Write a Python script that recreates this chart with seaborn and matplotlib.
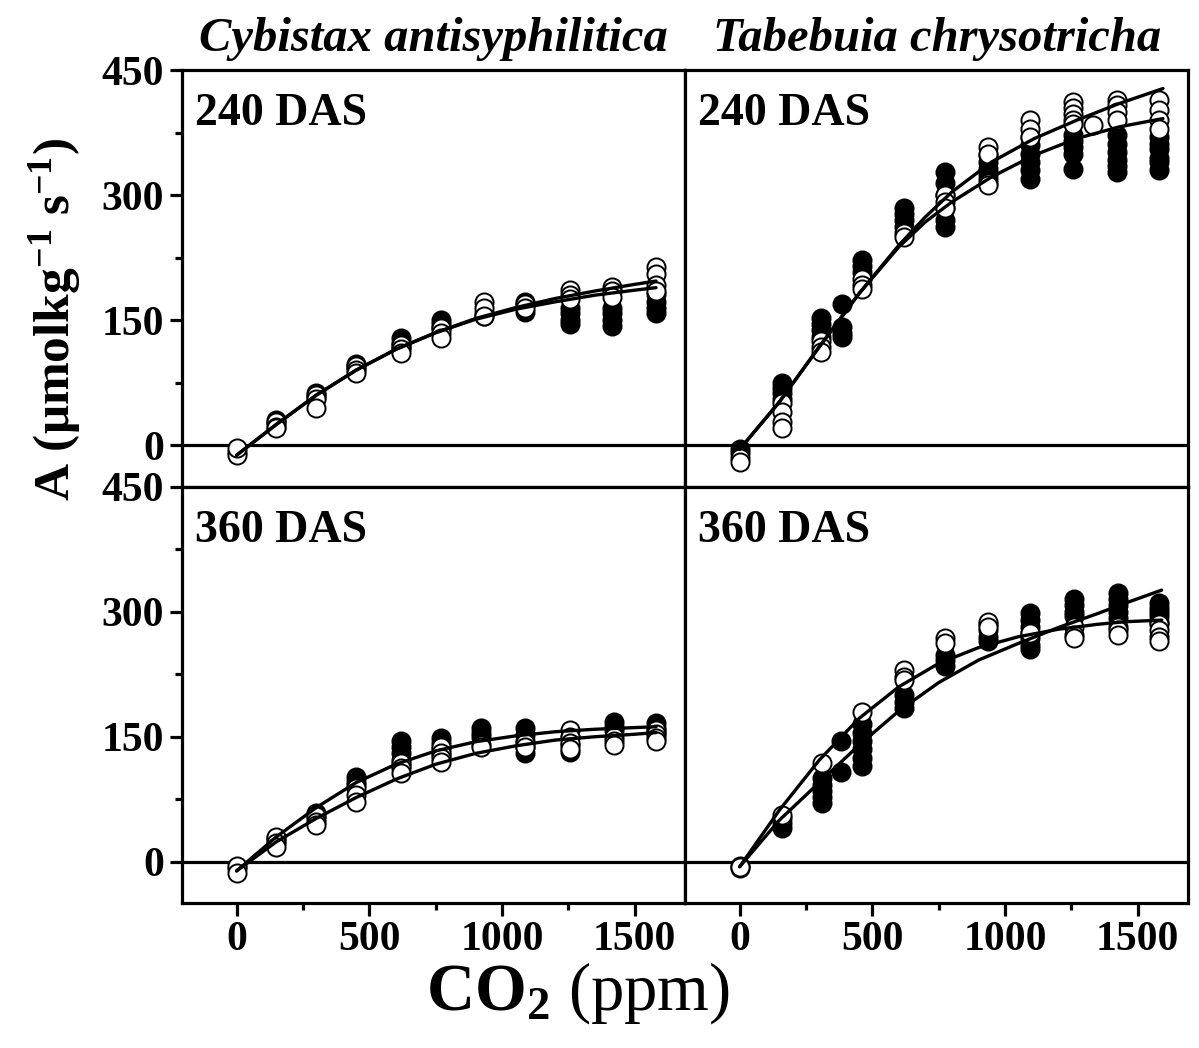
import numpy as np
import pandas as pd
import matplotlib
matplotlib.use("Agg")
import matplotlib.pyplot as plt
import seaborn as sns

# ---------------- data ----------------
panel_titles = ["Cybistax antisyphilitica", "Tabebuia chrysotricha"]
panel_tags = ["240 DAS", "360 DAS"]

# Cybistax antisyphilitica, 240 DAS
cyb240_levels = [0, 150, 300, 450, 620, 770, 930, 1085, 1255, 1415, 1580]
cyb240_filled = [[-8], [30, 26], [62, 58], [97, 94], [128, 122, 118],
                 [150, 145, 140], [158, 155], [172, 168, 160],
                 [165, 158, 150, 145], [165, 158, 150, 143], [182, 172, 165, 158]]
cyb240_open = [[-12, -4], [28, 22, 20], [60, 55, 45], [95, 90, 86], [120, 115, 110],
               [140, 135, 128], [172, 165, 155], [170, 165],
               [186, 180, 176], [190, 185, 178], [214, 205, 192, 185]]
cyb240_curve_x = [0, 150, 300, 450, 600, 750, 900, 1050, 1200, 1350, 1500, 1580]
cyb240_curve_filled = [-12, 25, 60, 90, 115, 135, 151, 163, 172, 180, 186, 189]
cyb240_curve_open = [-12, 25, 60, 90, 115, 135, 152, 165, 176, 185, 193, 197]

# Tabebuia chrysotricha, 240 DAS
tab240_levels = [0, 160, 305, 385, 460, 620, 775, 935, 1095, 1255, 1330, 1420, 1580]
tab240_filled = [[-5, -10], [75, 68, 62, 55], [152, 145, 138, 130], [170, 142, 135, 130],
                 [222, 215, 208], [285, 278, 270, 262], [328, 315, 300, 285, 270, 262],
                 [348, 340, 332, 325, 320], [370, 360, 350, 340, 330, 320],
                 [372, 365, 358, 350, 332], [], [372, 362, 352, 342, 335, 328],
                 [370, 362, 355, 345, 340, 330]]
tab240_open = [[-15, -20], [50, 40, 28, 20], [125, 118, 112], [],
               [200, 192, 188], [255, 250], [300, 292, 285],
               [358, 350, 315, 312], [390, 380, 370],
               [412, 405, 398, 390, 385], [384], [414, 408, 400, 390],
               [414, 402, 390, 380]]
tab240_curve_x = [0, 150, 300, 450, 600, 700, 800, 950, 1110, 1270, 1430, 1595]
tab240_curve_filled = [-5, 52, 118, 182, 238, 268, 292, 322, 348, 368, 382, 392]
tab240_curve_open = [-5, 52, 118, 182, 240, 274, 304, 340, 368, 390, 410, 428]

# Cybistax antisyphilitica, 360 DAS
cyb360_levels = [0, 150, 300, 450, 620, 770, 920, 1085, 1255, 1420, 1580]
cyb360_filled = [[-8], [28, 25], [58, 52], [102, 96, 92], [145, 138, 130, 122, 115],
                 [148, 142, 135, 128], [160, 155, 150], [160, 152, 145, 138, 130],
                 [150, 140, 132], [168, 162, 158], [166, 160, 155]]
cyb360_open = [[-5, -14], [30, 22, 18], [55, 48, 44], [88, 80, 72], [118, 112, 106],
               [138, 130, 124, 120], [140, 138], [142, 138],
               [158, 150, 143, 135], [150, 145, 140], [158, 153, 148, 145]]
cyb360_curve_x = [0, 150, 300, 450, 600, 750, 900, 1050, 1200, 1350, 1500, 1580]
cyb360_curve_filled = [-11, 30, 65, 95, 117, 133, 144, 151, 156, 159, 161, 162]
cyb360_curve_open = [-11, 24, 52, 77, 99, 117, 130, 139, 146, 150, 153, 155]

# Tabebuia chrysotricha, 360 DAS
tab360_levels = [0, 160, 310, 380, 460, 620, 775, 935, 1095, 1260, 1425, 1580]
tab360_filled = [[-5, -8], [52, 46, 40], [100, 92, 85, 78, 70], [145, 108],
                 [165, 155, 145, 135, 125, 115], [200, 192, 185], [248, 242, 235],
                 [285, 278, 270, 265], [298, 290, 282, 275, 268, 260, 255],
                 [315, 308, 300, 295], [322, 315, 308, 300, 292],
                 [310, 305, 300, 295, 288]]
tab360_open = [[-6], [56], [118], [], [180], [230, 222, 218], [268, 262],
               [288, 282], [275], [282, 272, 268], [282, 278, 272],
               [285, 278, 270, 265]]
tab360_curve_x = [0, 150, 300, 450, 600, 750, 900, 1050, 1200, 1350, 1450, 1590]
tab360_curve_filled = [-6, 50, 95, 140, 181, 215, 242, 262, 281, 298, 310, 326]
tab360_curve_open = [-6, 62, 122, 172, 210, 238, 257, 270, 279, 285, 288, 290]

x_ticks = [0, 500, 1000, 1500]
y_ticks = [0, 150, 300, 450]


def expand(levels, groups):
    xs, ys = [], []
    for lv, g in zip(levels, groups):
        for v in g:
            xs.append(lv)
            ys.append(v)
    return pd.DataFrame({"x": xs, "y": ys})


panels = [
    (cyb240_levels, cyb240_filled, cyb240_open, cyb240_curve_x, cyb240_curve_filled, cyb240_curve_open),
    (tab240_levels, tab240_filled, tab240_open, tab240_curve_x, tab240_curve_filled, tab240_curve_open),
    (cyb360_levels, cyb360_filled, cyb360_open, cyb360_curve_x, cyb360_curve_filled, cyb360_curve_open),
    (tab360_levels, tab360_filled, tab360_open, tab360_curve_x, tab360_curve_filled, tab360_curve_open),
]

# ---------------- style ----------------
sns.set_theme(style="ticks")
plt.rcParams["font.family"] = ["Liberation Serif", "DejaVu Serif"]
plt.rcParams["mathtext.fontset"] = "custom"
plt.rcParams["mathtext.rm"] = "Liberation Serif"
plt.rcParams["mathtext.bf"] = "Liberation Serif:bold"
plt.rcParams["mathtext.it"] = "Liberation Serif:italic"
plt.rcParams["text.color"] = "black"
plt.rcParams["xtick.color"] = "black"
plt.rcParams["ytick.color"] = "black"
plt.rcParams["axes.labelcolor"] = "black"

fig = plt.figure(figsize=(11.99, 10.48), dpi=100)
axes = fig.subplots(2, 2, sharex=True, sharey=True,
                    gridspec_kw=dict(wspace=0, hspace=0, left=0.152, right=0.991,
                                     top=0.933, bottom=0.138))

for i, ax in enumerate(axes.flat):
    lv, fil, opn, cx, cf, co = panels[i]
    dfil = expand(lv, fil)
    dopn = expand(lv, opn)
    ax.axhline(0, color="black", lw=2.3, zorder=1)
    sns.scatterplot(data=dfil, x="x", y="y", ax=ax, color="black", edgecolor="black",
                    s=170, linewidth=1.4, zorder=3, legend=False)
    sns.scatterplot(data=dopn, x="x", y="y", ax=ax, color="white", edgecolor="black",
                    s=170, linewidth=1.4, zorder=4, legend=False)
    dcurve = pd.DataFrame({"x": cx + cx,
                           "y": cf + co,
                           "g": ["filled"] * len(cx) + ["open"] * len(cx)})
    sns.lineplot(data=dcurve, x="x", y="y", units="g", estimator=None, ax=ax,
                 color="black", lw=2.4, zorder=5, legend=False, sort=False)
    ax.set_xlim(-205, 1690)
    ax.set_ylim(-50, 450)
    ax.set_xlabel("")
    ax.set_ylabel("")
    for sp in ax.spines.values():
        sp.set_visible(True)
        sp.set_linewidth(2.3)
        sp.set_color("black")
    ax.set_xticks(x_ticks)
    ax.set_xticks([250, 750, 1250], minor=True)
    ax.set_yticks(y_ticks)
    ax.set_yticks([75, 225, 375], minor=True)
    ax.tick_params(axis="both", which="major", direction="out", length=9, width=2.3,
                   color="black", labelcolor="black", labelsize=30, pad=4)
    ax.tick_params(axis="both", which="minor", direction="out", length=5, width=2.3,
                   color="black")
    row, col = divmod(i, 2)
    if col == 1:
        ax.tick_params(axis="y", which="both", left=False, labelleft=False)
    if row == 0:
        ax.tick_params(axis="x", which="both", bottom=False, labelbottom=False)
    for lab in ax.get_xticklabels() + ax.get_yticklabels():
        lab.set_fontweight("bold")
    ax.text(0.025, 0.945, panel_tags[row], transform=ax.transAxes, ha="left", va="top",
            fontsize=33, fontweight="bold", color="black")
    if row == 0:
        ax.text(0.5, 1.045, panel_titles[col], transform=ax.transAxes, ha="center",
                va="baseline", fontsize=35, fontweight="bold", fontstyle="italic",
                color="black")

fig.text(0.046, 1 - 320 / 1048, r"A ($\mathbf{\mu}$molkg$^{\mathbf{-1}}$ s$^{\mathbf{-1}}$)",
         rotation=90, ha="center", va="center", fontsize=37, fontweight="bold",
         color="black")
fig.text(578 / 1199, 1 - 1010 / 1048, r"$\mathbf{CO_2}$ (ppm)", ha="center",
         va="baseline", fontsize=48, color="black")

fig.savefig("out.png", dpi=100)
